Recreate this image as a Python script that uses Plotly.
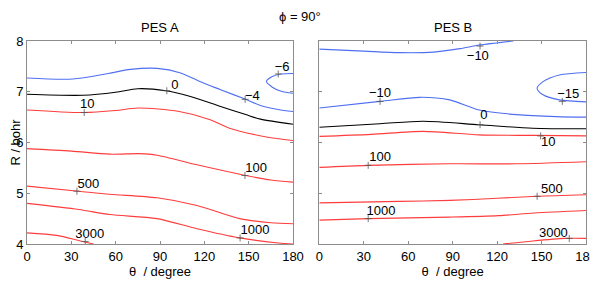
import plotly.graph_objects as go
from plotly.subplots import make_subplots

# ---------------- data (theta in degree, R in bohr) ----------------
# PES A contour lines
A_m4_theta = [0, 31, 55, 70, 88, 104, 117, 131, 148, 158, 170, 180]
A_m4_R     = [7.27, 7.25, 7.36, 7.44, 7.46, 7.37, 7.20, 7.04, 6.85, 6.73, 6.65, 6.61]
A_m6_theta = [180, 172, 166, 162, 166, 172, 180]
A_m6_R     = [7.36, 7.35, 7.30, 7.20, 7.09, 7.01, 6.97]
A_0_theta  = [0, 38, 60, 75, 94, 110, 131, 148, 158, 180]
A_0_R      = [6.95, 6.93, 6.99, 7.06, 7.02, 6.91, 6.71, 6.55, 6.46, 6.36]
A_10_theta = [0, 38, 60, 75, 103, 124, 137, 162, 180]
A_10_R     = [6.64, 6.59, 6.63, 6.68, 6.61, 6.45, 6.28, 6.11, 6.04]
A_100_theta = [0, 30, 56, 76, 88, 115, 148, 165, 180]
A_100_R     = [5.88, 5.83, 5.77, 5.78, 5.75, 5.56, 5.35, 5.26, 5.22]
A_500_theta = [0, 35, 56, 88, 115, 144, 165, 180]
A_500_R     = [5.14, 5.04, 4.98, 4.91, 4.76, 4.50, 4.42, 4.40]
A_1000_theta = [0, 35, 56, 88, 115, 144, 170, 180]
A_1000_R     = [4.80, 4.68, 4.58, 4.50, 4.30, 4.12, 4.02, 4.00]
A_3000_theta = [0, 20, 36, 45]
A_3000_R     = [4.22, 4.17, 4.06, 4.00]

# PES B contour lines
B_m10a_theta = [0, 30, 54, 77, 95, 108, 131]
B_m10a_R     = [7.84, 7.80, 7.77, 7.78, 7.85, 7.92, 8.00]
B_m10b_theta = [0, 41, 68, 88, 108, 133, 160, 180]
B_m10b_R     = [6.68, 6.81, 6.89, 6.84, 6.64, 6.55, 6.51, 6.50]
B_m15_theta = [180, 162, 151, 147, 151, 162, 180]
B_m15_R     = [7.38, 7.33, 7.20, 7.07, 6.94, 6.84, 6.80]
B_0_theta  = [0, 41, 70, 108, 144, 180]
B_0_R      = [6.30, 6.37, 6.42, 6.35, 6.28, 6.27]
B_10_theta = [0, 35, 70, 108, 145, 180]
B_10_R     = [6.12, 6.16, 6.22, 6.15, 6.14, 6.13]
B_100_theta = [0, 33, 88, 133, 180]
B_100_R     = [5.51, 5.55, 5.58, 5.58, 5.62]
B_500_theta = [0, 54, 88, 120, 147, 180]
B_500_R     = [4.81, 4.84, 4.86, 4.90, 4.94, 4.97]
B_1000_theta = [0, 33, 88, 121, 145, 180]
B_1000_R     = [4.47, 4.50, 4.53, 4.56, 4.61, 4.66]
B_3000_theta = [124, 144, 166, 180]
B_3000_R     = [4.00, 4.06, 4.11, 4.11]

# contour labels: text, marker theta/R, text theta/R
A_labels = [("10", 38.7, 6.59, 40.8, 6.75), ("0", 94.6, 7.02, 100, 7.11),
            ("\u22124", 147.6, 6.85, 152.5, 6.91), ("\u22126", 170, 7.35, 172.6, 7.48),
            ("100", 147.5, 5.35, 155, 5.49), ("500", 33.8, 5.04, 41.5, 5.17),
            ("3000", 39.4, 4.05, 42.5, 4.19), ("1000", 144.2, 4.12, 154.3, 4.27)]
B_labels = [("\u221210", 108.5, 7.90, 107, 7.69), ("\u221210", 41, 6.81, 41, 6.97),
            ("\u221215", 164, 6.81, 168, 6.94), ("0", 108.5, 6.35, 111, 6.53),
            ("10", 149.4, 6.13, 154.5, 6.00), ("100", 33, 5.55, 41, 5.69),
            ("500", 147, 4.94, 157, 5.06), ("1000", 33, 4.50, 41.6, 4.63),
            ("3000", 168.7, 4.11, 158, 4.21)]

x_ticks = [0, 30, 60, 90, 120, 150, 180]
y_ticks = [4, 5, 6, 7, 8]

BLUE = "#4f6ff2"
RED = "#ff3c3c"
BLACK = "#000000"

A_lines = [(A_m4_theta, A_m4_R, BLUE), (A_m6_theta, A_m6_R, BLUE), (A_0_theta, A_0_R, BLACK),
           (A_10_theta, A_10_R, RED), (A_100_theta, A_100_R, RED), (A_500_theta, A_500_R, RED),
           (A_1000_theta, A_1000_R, RED), (A_3000_theta, A_3000_R, RED)]
B_lines = [(B_m10a_theta, B_m10a_R, BLUE), (B_m10b_theta, B_m10b_R, BLUE), (B_m15_theta, B_m15_R, BLUE),
           (B_0_theta, B_0_R, BLACK), (B_10_theta, B_10_R, RED), (B_100_theta, B_100_R, RED),
           (B_500_theta, B_500_R, RED), (B_1000_theta, B_1000_R, RED), (B_3000_theta, B_3000_R, RED)]

FONT = "Liberation Sans, Arial, Helvetica, sans-serif"

# page body has an 8px margin -> figure is offset by (8, 8) in the window
OFF = 8
W, H = 598 - OFF, 281 - OFF
ML, MT = 27 - OFF, 41 - OFF
MR = W - (586 - OFF)
MB = H - (244 - OFF)
pw, ph = W - ML - MR, H - MT - MB
left_dom = [0, (293 - 27) / pw]
right_dom = [(319.3 - 27) / pw, 1]

fig = make_subplots(rows=1, cols=2)

for col, (lines, labels) in enumerate([(A_lines, A_labels), (B_lines, B_labels)], start=1):
    for th, r, c in lines:
        fig.add_trace(go.Scatter(x=th, y=r, mode="lines", line=dict(color=c, width=1.1, shape="spline", smoothing=0.8),
                                 hoverinfo="skip", showlegend=False, cliponaxis=True), row=1, col=col)
    fig.add_trace(go.Scatter(x=[l[1] for l in labels], y=[l[2] for l in labels], mode="markers",
                             marker=dict(symbol="cross-thin", size=5, line=dict(color="#555555", width=0.8)),
                             hoverinfo="skip", showlegend=False), row=1, col=col)
    fig.add_trace(go.Scatter(x=[l[3] for l in labels], y=[l[4] for l in labels], mode="text",
                             text=[l[0] for l in labels], textfont=dict(family=FONT, size=13, color="black"),
                             hoverinfo="skip", showlegend=False, cliponaxis=False), row=1, col=col)

axis_common = dict(showline=True, linecolor="#8c8c8c", linewidth=1, mirror="ticks", ticks="inside",
                   ticklen=3, tickcolor="#8c8c8c", showgrid=False, zeroline=False, automargin=False,
                   tickfont=dict(family=FONT, size=13, color="black"))
for col in (1, 2):
    fig.update_xaxes(range=[0, 180], tickvals=x_ticks, ticktext=[str(v) for v in x_ticks],
                     title=dict(text="\u03b8  / degree", font=dict(family=FONT, size=13, color="black"), standoff=2),
                     row=1, col=col, **axis_common)
    fig.update_yaxes(range=[4, 8], tickvals=y_ticks, ticktext=[str(v) for v in y_ticks],
                     showticklabels=(col == 1), row=1, col=col, **axis_common)
fig.update_yaxes(title=dict(text="R / bohr", font=dict(family=FONT, size=13, color="black"), standoff=4), row=1, col=1)
fig.update_layout(xaxis=dict(domain=left_dom), xaxis2=dict(domain=right_dom))

def ann(text, px, py):
    # px, py in window pixels
    return dict(text=text, xref="paper", yref="paper", x=(px - 27) / pw, y=1 + (41 - py) / ph,
                xanchor="center", yanchor="middle", showarrow=False,
                font=dict(family=FONT, size=13, color="black"))

fig.update_layout(
    width=W, height=H,
    margin=dict(l=ML, r=MR, t=MT, b=MB),
    paper_bgcolor="white", plot_bgcolor="white",
    font=dict(family=FONT, size=13, color="black"),
    annotations=[ann("\u03d5 = 90\u00b0", 300, 16), ann("PES A", 160, 27), ann("PES B", 453, 27)],
)

fig.write_html("out.html")
